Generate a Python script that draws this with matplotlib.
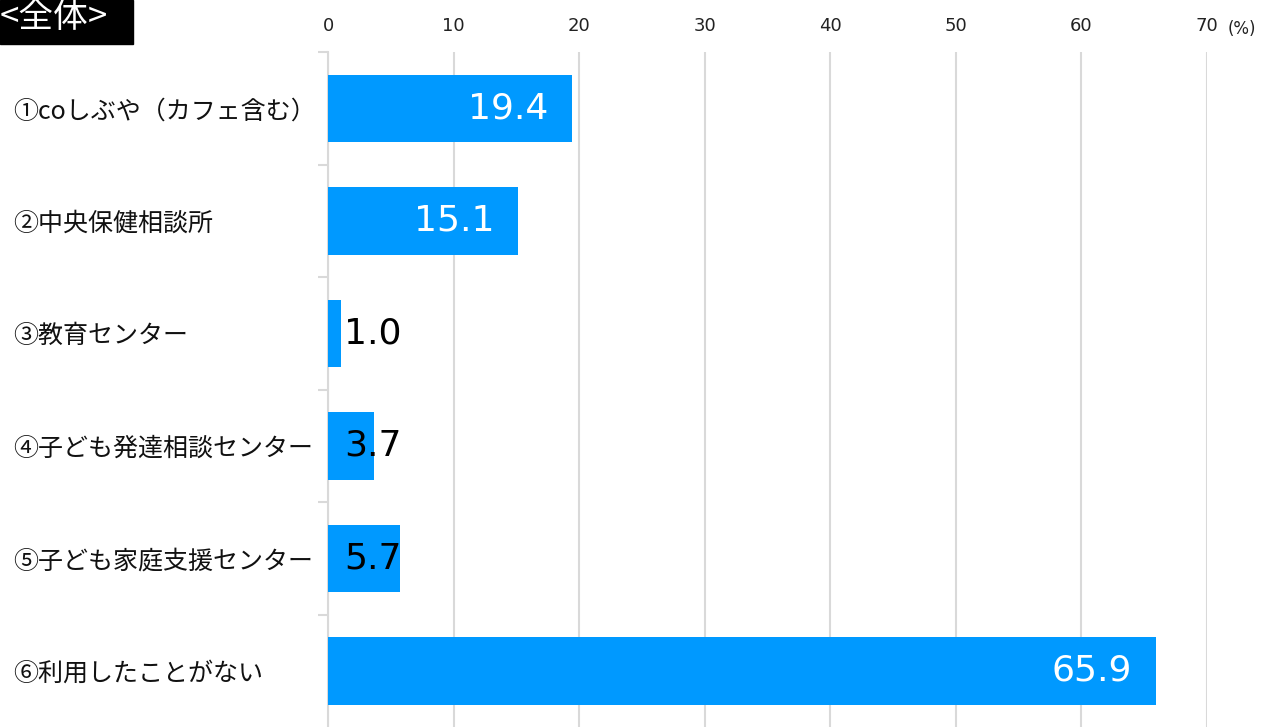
import matplotlib.pyplot as plt
from matplotlib.patches import Rectangle

# データ
categories = ['①coしぶや（カフェ含む）', '②中央保健相談所', '③教育センター',
              '④子ども発達相談センター', '⑤子ども家庭支援センター', '⑥利用したことがない']
values = [19.4, 15.1, 1.0, 3.7, 5.7, 65.9]
xticks = [0, 10, 20, 30, 40, 50, 60, 70]

bar_color = '#0099FF'
grid_color = '#D9D9D9'
jp_font = ['Noto Sans CJK JP', 'DejaVu Sans']

fig = plt.figure(figsize=(12.63, 7.27), dpi=100)
ax = fig.add_axes([328 / 1263, 0.0, (1207 - 328) / 1263, 1 - 52 / 727])

y = list(range(len(categories)))
ax.barh(y, values, height=0.6, color=bar_color, zorder=3)

ax.set_xlim(0, 70)
ax.set_ylim(len(categories) - 0.5, -0.5)

# x軸は上側
ax.xaxis.tick_top()
ax.set_xticks(xticks)
ax.set_xticklabels([str(t) for t in xticks], fontsize=13, color='#222222')
ax.tick_params(axis='x', length=0, pad=12)
ax.grid(axis='x', color=grid_color, linewidth=1.5, zorder=0)

# y軸
ax.set_yticks(y)
ax.set_yticklabels(categories, fontsize=18, family=jp_font, color='#111111')
for lbl in ax.get_yticklabels():
    lbl.set_horizontalalignment('left')
ax.tick_params(axis='y', which='major', length=0, pad=227)
ax.set_yticks([i - 0.5 for i in range(len(categories))], minor=True)
ax.tick_params(axis='y', which='minor', length=7, width=1.5, color=grid_color)

for s in ['top', 'right', 'bottom']:
    ax.spines[s].set_visible(False)
ax.spines['left'].set_color(grid_color)
ax.spines['left'].set_linewidth(1.5)

# 数値ラベル
for i, v in enumerate(values):
    if v > 10:
        ax.annotate(f'{v:.1f}', xy=(v, i), xytext=(-17, 0), textcoords='offset points',
                    ha='right', va='center', fontsize=26, color='white', zorder=4)
    else:
        ax.text(1.3, i, f'{v:.1f}', ha='left', va='center', fontsize=26,
                color='black', zorder=4)

fig.text(1242 / 1263, 1 - 29 / 727, '(%)', fontsize=12, color='#222222',
         ha='center', va='center')

# 見出し
fig.patches.append(Rectangle((0, 1 - 44 / 727), 133 / 1263, 44 / 727,
                             transform=fig.transFigure, color='black', zorder=5))
fig.text(0, 1 - 17 / 727, '<全体>', fontsize=25, color='white', family=jp_font,
         ha='left', va='center', zorder=6)

fig.savefig('out.png', dpi=100)
